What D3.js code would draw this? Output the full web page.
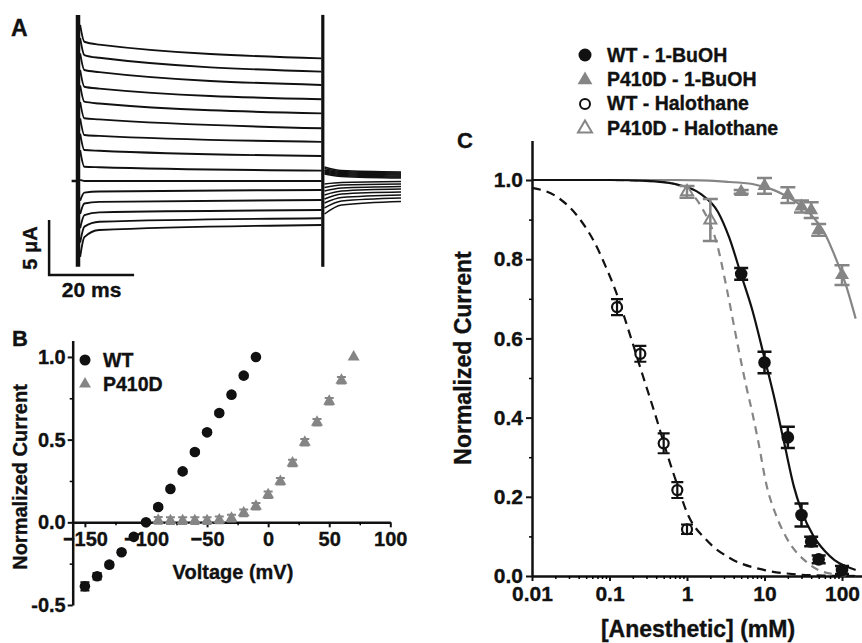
<!DOCTYPE html>
<html>
<head>
<meta charset="utf-8">
<script src="https://cdn.jsdelivr.net/npm/d3@7"></script>
<style>
  body { margin: 0; background: #fff; }
  svg { display: block; }
  text { stroke: #111; stroke-width: 0.35px; }
</style>
</head>
<body>
<svg id="fig" width="862" height="643"></svg>
<script>
// ---- panel A: current traces (uA) for steps -10 ... -150 mV
const traceVoltages = [-10, -20, -30, -40, -50, -60, -70, -80, -90, -100, -110, -120, -130, -140, -150]
const stepTimes = [0.5, 1.5, 5, 57.3]
const stepCurrents = [
  [14.2, 12.66, 12.4, 11.15],
  [13.0, 11.45, 11.2, 9.94],
  [11.6, 10.09, 9.9, 8.73],
  [10.1, 8.57, 8.4, 7.43],
  [8.7, 7.21, 7.05, 6.15],
  [7.2, 5.70, 5.6, 4.79],
  [5.7, 4.18, 4.1, 3.56],
  [4.3, 2.82, 2.75, 2.27],
  [2.8, 1.30, 1.25, 0.94],
  [0.1, 0, 0, 0],
  [-1.8, -1.06, -0.95, -0.82],
  [-3.0, -2.05, -1.9, -1.73],
  [-4.3, -3.1, -2.85, -2.64],
  [-5.6, -4.15, -3.7, -3.39],
  [-6.9, -5.1, -4.45, -4.0]
]
const tailTimes = [58.0, 62, 76]
const tailCurrents = [
  [1.27, 0.95, 0.82],
  [1.14, 0.86, 0.73],
  [1.0, 0.77, 0.64],
  [0.91, 0.68, 0.55],
  [0.82, 0.59, 0.45],
  [0.73, 0.5, 0.36],
  [0.64, 0.41, 0.27],
  [-0.27, -0.14, -0.05],
  [-0.59, -0.36, -0.27],
  [-0.91, -0.64, -0.5],
  [-1.27, -0.91, -0.73],
  [-1.64, -1.18, -1.0],
  [-2.0, -1.5, -1.27],
  [-2.45, -1.82, -1.55],
  [-3.0, -2.18, -1.86]
]
const spikeTimes = [0, 57.6]
const spikeRange = [-7.8, 15.1]
const zeroMarker = [-1.5, 0]
const scaleBarOrigin = [-6.8, -8.55]
const scaleBarSize = [20, 5]

// ---- panel B: I-V
const ivVoltWT = [-150, -140, -130, -120, -110, -100, -90, -80, -70, -60, -50, -40, -30, -20, -10]
const ivWT = [-0.387, -0.326, -0.256, -0.181, -0.088, 0.0, 0.093, 0.202, 0.308, 0.425, 0.544, 0.661, 0.772, 0.887, 1.0]
const ivWTErr = [0.025, 0.02, 0.015, 0.012, 0.012, 0.01, 0.012, 0.012, 0.012, 0.012, 0.012, 0.012, 0.012, 0.012, 0]
const ivVoltP = [-90, -80, -70, -60, -50, -40, -30, -20, -10, 0, 10, 20, 30, 40, 50, 60, 70]
const ivP = [0.012, 0.01, 0.01, 0.01, 0.01, 0.015, 0.025, 0.057, 0.097, 0.167, 0.248, 0.359, 0.484, 0.605, 0.732, 0.859, 1.0]
const ivPErr = [0.02, 0.02, 0.02, 0.02, 0.02, 0.02, 0.02, 0.02, 0.02, 0.02, 0.02, 0.02, 0.02, 0.02, 0.02, 0.02, 0]
const ivLegend = ['WT', 'P410D']

// ---- panel C: dose-response
const wtBuohConc = [5, 10, 20, 30, 40, 50, 100]
const wtBuoh = [0.763, 0.539, 0.35, 0.154, 0.087, 0.042, 0.015]
const wtBuohErr = [0.015, 0.027, 0.027, 0.029, 0.012, 0.01, 0.01]
const p4BuohConc = [5, 10, 20, 30, 40, 50, 100]
const p4Buoh = [0.970, 0.985, 0.962, 0.933, 0.924, 0.874, 0.760]
const p4BuohErr = [0.005, 0.02, 0.02, 0.015, 0.02, 0.015, 0.025]
const wtHalConc = [0.125, 0.25, 0.5, 0.75, 1.0]
const wtHal = [0.679, 0.561, 0.335, 0.217, 0.118]
const wtHalErr = [0.02, 0.02, 0.025, 0.02, 0.012]
const p4HalConc = [1, 2]
const p4Hal = [0.97, 0.899]
const p4HalErr = [0.015, 0.053]

// fitted curves
const buohFitConc = [0.01, 0.1, 0.3, 0.7, 1.5, 2.5, 3.5, 5, 7, 10, 13, 18, 24, 30, 43, 60, 80, 110, 150]
const wtBuohFit = [1.0, 1.0, 0.998, 0.99, 0.965, 0.92, 0.855, 0.76, 0.67, 0.55, 0.46, 0.335, 0.225, 0.165, 0.10, 0.063, 0.04, 0.025, 0.015]
const p4BuohFit = [1.0, 1.0, 1.0, 1.0, 0.999, 0.997, 0.995, 0.993, 0.99, 0.982, 0.975, 0.962, 0.948, 0.935, 0.905, 0.865, 0.81, 0.74, 0.65]
const wtHalFitConc = [0.01, 0.02, 0.04, 0.065, 0.09, 0.12, 0.17, 0.27, 0.4, 0.55, 0.75, 1.0, 1.8, 3.6, 10, 26, 60, 150]
const wtHalFit = [0.98, 0.96, 0.905, 0.84, 0.78, 0.72, 0.63, 0.505, 0.40, 0.31, 0.23, 0.16, 0.09, 0.045, 0.015, 0.004, 0.001, 0.0]
const p4HalFitConc = [0.01, 0.1, 0.5, 1.0, 1.5, 2.5, 3.3, 4.6, 5.8, 7, 8.3, 10.6, 14, 19.4, 35, 63, 150]
const p4HalFit = [1.0, 1.0, 0.995, 0.975, 0.935, 0.83, 0.72, 0.575, 0.48, 0.41, 0.34, 0.23, 0.155, 0.095, 0.035, 0.008, 0.0]
const doseLegend = ['WT - 1-BuOH', 'P410D - 1-BuOH', 'WT - Halothane', 'P410D - Halothane']

const FONT = '"Liberation Sans", Arial, sans-serif'
const ink = '#111'
const grey = '#858585'

const svg = d3.select('#fig')
  .attr('font-family', FONT)
  .attr('font-weight', 'bold')

const label = (g, txt, x, y, size, opts = {}) => g.append('text')
  .attr('x', x).attr('y', y)
  .attr('font-size', size)
  .attr('fill', ink)
  .attr('text-anchor', opts.anchor || 'start')
  .attr('transform', opts.rotate ? `rotate(-90, ${x}, ${y})` : null)
  .text(txt)

const styleAxis = (g, size) => {
  g.attr('font-family', FONT).attr('font-size', size).attr('color', ink)
  g.select('.domain').attr('stroke-width', 2.5)
  g.selectAll('.tick line').attr('stroke-width', 2)
}

function errorBars (g, data, x, y, cap, color, width = 2) {
  data.forEach(d => {
    if (!d.e) return
    const cx = x(d.x)
    const y0 = y(d.y - d.e)
    const y1 = y(d.y + d.e)
    g.append('path')
      .attr('d', `M${cx},${y0}V${y1}M${cx - cap / 2},${y0}h${cap}M${cx - cap / 2},${y1}h${cap}`)
      .attr('stroke', color).attr('stroke-width', width).attr('fill', 'none')
  })
}

const zipPts = (xs, ys, es) => xs.map((x, i) => ({ x, y: ys[i], e: es ? es[i] : 0 }))

// =================== A ===================
const gA = svg.append('g')
const aX = d3.scaleLinear().domain([0, 20]).range([78, 163])
const aY = d3.scaleLinear().domain([0, 5]).range([181, 126])
const traceLine = d3.line().x(d => aX(d[0])).y(d => aY(d[1])).curve(d3.curveMonotoneX)

traceVoltages.forEach((v, k) => {
  gA.append('path')
    .attr('d', traceLine(stepTimes.map((t, i) => [t, stepCurrents[k][i]])))
    .attr('fill', 'none').attr('stroke', ink).attr('stroke-width', 1.9)
  gA.append('path')
    .attr('d', traceLine(tailTimes.map((t, i) => [t, tailCurrents[k][i]])))
    .attr('fill', 'none').attr('stroke', ink).attr('stroke-width', 1.5)
})

spikeTimes.forEach((t, i) => {
  gA.append('line')
    .attr('x1', aX(t)).attr('x2', aX(t))
    .attr('y1', aY(spikeRange[0])).attr('y2', aY(spikeRange[1]))
    .attr('stroke', ink).attr('stroke-width', i ? 3.2 : 4.5)
})

gA.append('line')
  .attr('x1', aX(zeroMarker[0])).attr('x2', aX(zeroMarker[1]))
  .attr('y1', aY(0)).attr('y2', aY(0))
  .attr('stroke', ink).attr('stroke-width', 2.5)

gA.append('path')
  .attr('d', `M${aX(scaleBarOrigin[0])},${aY(scaleBarOrigin[1] + scaleBarSize[1])}V${aY(scaleBarOrigin[1])}H${aX(scaleBarOrigin[0] + scaleBarSize[0])}`)
  .attr('fill', 'none').attr('stroke', ink).attr('stroke-width', 2.5)

label(gA, '5 μA', 37, 248, 20, { anchor: 'middle', rotate: true })
label(gA, '20 ms', aX(scaleBarOrigin[0] + scaleBarSize[0] / 2), 297, 21, { anchor: 'middle' })
label(gA, 'A', 11, 36, 23)

// =================== B ===================
const gB = svg.append('g')
const bX = d3.scaleLinear().domain([-160, 100]).range([72.7, 390.3])
const bY = d3.scaleLinear().domain([-0.5, 1.1]).range([605, 340.4])

const bxAxis = gB.append('g')
  .attr('transform', `translate(0, ${bY(0)})`)
  .call(d3.axisBottom(bX).tickValues([-150, -100, -50, 0, 50, 100]).tickSize(5).tickPadding(4).tickSizeOuter(0))
styleAxis(bxAxis, 20)
gB.append('g')
  .attr('transform', `translate(0, ${bY(0)})`)
  .call(d3.axisBottom(bX).tickValues([-125, -75, -25, 25, 75]).tickSize(3).tickFormat(''))
  .call(g => g.select('.domain').remove())
  .call(g => g.selectAll('line').attr('stroke-width', 1.5))

const byAxis = gB.append('g')
  .attr('transform', `translate(${bX(-160)}, 0)`)
  .call(d3.axisLeft(bY).tickValues([-0.5, 0, 0.5, 1]).tickFormat(d => d.toFixed(1)).tickSize(5).tickPadding(2).tickSizeOuter(0))
styleAxis(byAxis, 20)
gB.append('g')
  .attr('transform', `translate(${bX(-160)}, 0)`)
  .call(d3.axisLeft(bY).tickValues([-0.25, 0.25, 0.75]).tickSize(3).tickFormat(''))
  .call(g => g.select('.domain').remove())
  .call(g => g.selectAll('line').attr('stroke-width', 1.5))

const wtIV = zipPts(ivVoltWT, ivWT, ivWTErr)
const pIV = zipPts(ivVoltP, ivP, ivPErr)

errorBars(gB, pIV, bX, bY, 9, grey)
gB.selectAll('.tri').data(pIV).join('path')
  .attr('transform', d => `translate(${bX(d.x)}, ${bY(d.y)})`)
  .attr('d', d3.symbol(d3.symbolTriangle, 62))
  .attr('fill', grey)

errorBars(gB, wtIV, bX, bY, 9, ink)
gB.selectAll('.dot').data(wtIV).join('circle')
  .attr('cx', d => bX(d.x)).attr('cy', d => bY(d.y)).attr('r', 5.3)
  .attr('fill', ink)

gB.append('circle').attr('cx', 85).attr('cy', 360).attr('r', 5.5).attr('fill', ink)
gB.append('path').attr('transform', 'translate(85, 384)').attr('d', d3.symbol(d3.symbolTriangle, 62)).attr('fill', grey)
ivLegend.forEach((t, i) => label(gB, t, 103, 367 + i * 23.5, 19.5))

label(gB, 'Normalized Current', 26.5, 477, 20, { anchor: 'middle', rotate: true })
label(gB, 'Voltage (mV)', 233, 579, 20, { anchor: 'middle' })
label(gB, 'B', 12, 346, 22)

// =================== C ===================
const gC = svg.append('g')
const cX = d3.scaleLog().domain([0.01, 180]).range([532, 861.8])
const cY = d3.scaleLinear().domain([0, 1.1]).range([576, 140.4])

const decades = [0.01, 0.1, 1, 10, 100]
const minorC = []
decades.forEach(d => [2, 3, 4, 5, 6, 7, 8, 9].forEach(m => { if (d * m <= 180) minorC.push(d * m) }))

const cxAxis = gC.append('g')
  .attr('transform', `translate(0, ${cY(0)})`)
  .call(d3.axisBottom(cX).tickValues(decades).tickFormat(d => String(d)).tickSize(5).tickPadding(5).tickSizeOuter(0))
styleAxis(cxAxis, 21)
gC.append('g')
  .attr('transform', `translate(0, ${cY(0)})`)
  .call(d3.axisBottom(cX).tickValues(minorC).tickSize(3).tickFormat(''))
  .call(g => g.select('.domain').remove())
  .call(g => g.selectAll('line').attr('stroke-width', 1.5))

const cyAxis = gC.append('g')
  .attr('transform', `translate(${cX(0.01)}, 0)`)
  .call(d3.axisLeft(cY).tickValues([0, 0.2, 0.4, 0.6, 0.8, 1.0]).tickFormat(d => d.toFixed(1)).tickSize(6).tickPadding(3).tickSizeOuter(0))
styleAxis(cyAxis, 21)
gC.append('g')
  .attr('transform', `translate(${cX(0.01)}, 0)`)
  .call(d3.axisLeft(cY).tickValues([0.1, 0.3, 0.5, 0.7, 0.9]).tickSize(3).tickFormat(''))
  .call(g => g.select('.domain').remove())
  .call(g => g.selectAll('line').attr('stroke-width', 1.5))

const fitLine = d3.line().x(d => cX(d[0])).y(d => cY(d[1])).curve(d3.curveMonotoneX)
const fits = [
  { conc: buohFitConc, val: p4BuohFit, color: grey, dash: null },
  { conc: p4HalFitConc, val: p4HalFit, color: grey, dash: '8,6' },
  { conc: wtHalFitConc, val: wtHalFit, color: ink, dash: '9,6' },
  { conc: buohFitConc, val: wtBuohFit, color: ink, dash: null }
]
fits.forEach(f => {
  gC.append('path')
    .attr('d', fitLine(f.conc.map((c, i) => [c, f.val[i]])))
    .attr('fill', 'none').attr('stroke', f.color).attr('stroke-width', 2.2)
    .attr('stroke-dasharray', f.dash)
})

const p4B = zipPts(p4BuohConc, p4Buoh, p4BuohErr)
const p4H = zipPts(p4HalConc, p4Hal, p4HalErr)
const wtB = zipPts(wtBuohConc, wtBuoh, wtBuohErr)
const wtH = zipPts(wtHalConc, wtHal, wtHalErr)

errorBars(gC, p4B, cX, cY, 15, grey, 2.5)
gC.selectAll('.p4b').data(p4B).join('path')
  .attr('transform', d => `translate(${cX(d.x)}, ${cY(d.y)})`)
  .attr('d', d3.symbol(d3.symbolTriangle, 85))
  .attr('fill', grey)

gC.selectAll('.p4h').data(p4H).join('path')
  .attr('transform', d => `translate(${cX(d.x)}, ${cY(d.y)})`)
  .attr('d', d3.symbol(d3.symbolTriangle, 62))
  .attr('fill', '#fff').attr('stroke', grey).attr('stroke-width', 2)
errorBars(gC, p4H, cX, cY, 15, grey, 2.5)

errorBars(gC, wtB, cX, cY, 14, ink, 2.5)
gC.selectAll('.wtb').data(wtB).join('circle')
  .attr('cx', d => cX(d.x)).attr('cy', d => cY(d.y)).attr('r', 6.3)
  .attr('fill', ink)

gC.selectAll('.wth').data(wtH).join('circle')
  .attr('cx', d => cX(d.x)).attr('cy', d => cY(d.y)).attr('r', 5)
  .attr('fill', '#fff').attr('stroke', ink).attr('stroke-width', 2.2)
errorBars(gC, wtH, cX, cY, 12, ink, 2.2)

// legend
const legY = [55, 79, 103, 127.5]
gC.append('circle').attr('cx', 585).attr('cy', legY[0]).attr('r', 6.5).attr('fill', ink)
gC.append('path').attr('transform', `translate(585, ${legY[1] + 1})`).attr('d', d3.symbol(d3.symbolTriangle, 95)).attr('fill', grey)
gC.append('circle').attr('cx', 585).attr('cy', legY[2] + 1).attr('r', 5).attr('fill', '#fff').attr('stroke', ink).attr('stroke-width', 2)
gC.append('path').attr('transform', `translate(585, ${legY[3] + 1})`).attr('d', d3.symbol(d3.symbolTriangle, 85)).attr('fill', '#fff').attr('stroke', grey).attr('stroke-width', 2)
doseLegend.forEach((t, i) => label(gC, t, 607, legY[i] + 7, 19.5))

label(gC, 'Normalized Current', 471, 358, 23, { anchor: 'middle', rotate: true })
label(gC, '[Anesthetic] (mM)', 698, 637, 23, { anchor: 'middle' })
label(gC, 'C', 457, 148, 22)
</script>
</body>
</html>
